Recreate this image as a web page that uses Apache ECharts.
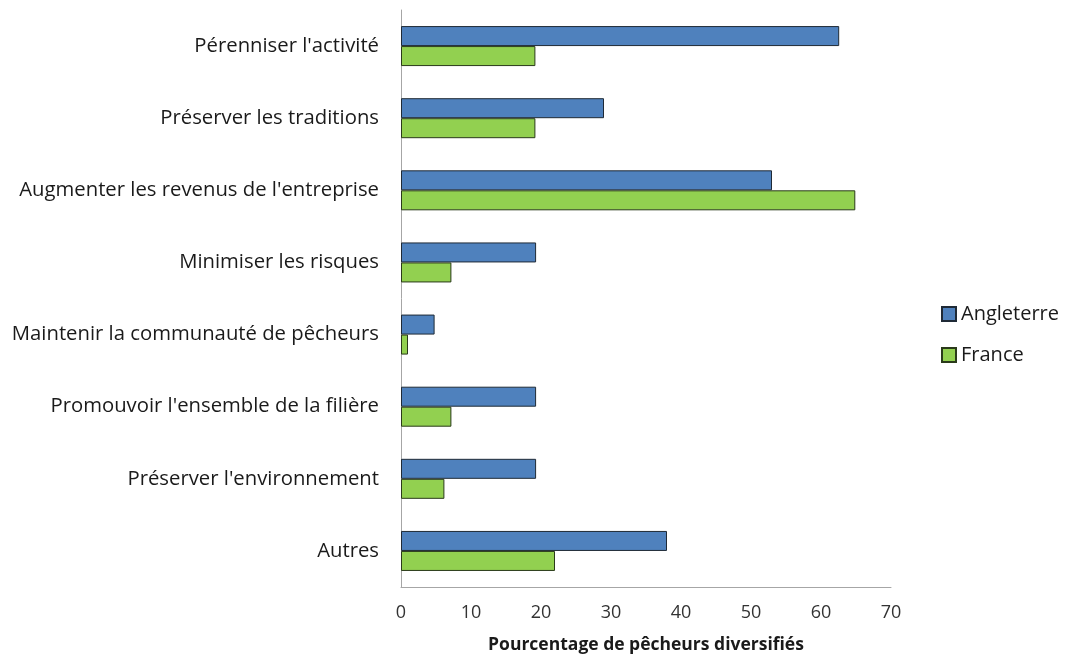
<!DOCTYPE html>
<html>
<head>
<meta charset="utf-8">
<script src="https://cdn.jsdelivr.net/npm/echarts@6/dist/echarts.min.js"></script>
<style>
  html, body { margin: 0; padding: 0; background: #fff; }
  #chart { width: 1069px; height: 659px; }
</style>
</head>
<body>
<div id="chart"></div>
<script>
const categories = [
  "Pérenniser l'activité",
  "Préserver les traditions",
  "Augmenter les revenus de l'entreprise",
  "Minimiser les risques",
  "Maintenir la communauté de pêcheurs",
  "Promouvoir l'ensemble de la filière",
  "Préserver l'environnement",
  "Autres"
];
const angleterre = [62.6, 29, 53, 19.3, 4.8, 19.3, 19.3, 38];
const france = [19.2, 19.2, 64.9, 7.2, 1, 7.2, 6.2, 22];
const xTicks = { min: 0, max: 70, interval: 10 };

const font = "'Open Sans', 'Liberation Sans', sans-serif";

const chart = echarts.init(document.getElementById('chart'));
chart.setOption({
  animation: false,
  textStyle: { fontFamily: font },
  grid: { left: 401, right: 178, top: 10, bottom: 71, containLabel: false },
  legend: {
    orient: 'vertical',
    left: 941,
    top: 304,
    padding: 0,
    itemWidth: 14,
    itemHeight: 14,
    itemGap: 21,
    icon: 'rect',
    textStyle: { fontSize: 20, color: '#1a1a1a', fontFamily: font },
    data: ['Angleterre', 'France']
  },
  xAxis: {
    type: 'value',
    min: xTicks.min,
    max: xTicks.max,
    interval: xTicks.interval,
    splitLine: { show: false },
    axisLine: { show: true, lineStyle: { color: '#a6a6a6', width: 1 } },
    axisTick: { show: false },
    axisLabel: { fontSize: 18, color: '#333', margin: 17, fontFamily: font },
    name: 'Pourcentage de pêcheurs diversifiés',
    nameLocation: 'middle',
    nameGap: 49,
    nameTextStyle: { fontSize: 17.5, fontWeight: 'bold', color: '#1a1a1a', fontFamily: font }
  },
  yAxis: {
    type: 'category',
    data: categories,
    inverse: true,
    axisLine: { show: true, lineStyle: { color: '#a6a6a6', width: 1 } },
    axisTick: { show: false },
    axisLabel: { fontSize: 20.3, color: '#1a1a1a', margin: 22, fontFamily: font }
  },
  series: [
    {
      name: 'Angleterre',
      type: 'bar',
      data: angleterre,
      barWidth: 20,
      barGap: '0%',
      itemStyle: { color: '#4f81bd', borderColor: '#1f2a36', borderWidth: 1 }
    },
    {
      name: 'France',
      type: 'bar',
      data: france,
      barWidth: 20,
      barGap: '0%',
      itemStyle: { color: '#92d050', borderColor: '#2a3a1a', borderWidth: 1 }
    }
  ]
});
</script>
</body>
</html>
